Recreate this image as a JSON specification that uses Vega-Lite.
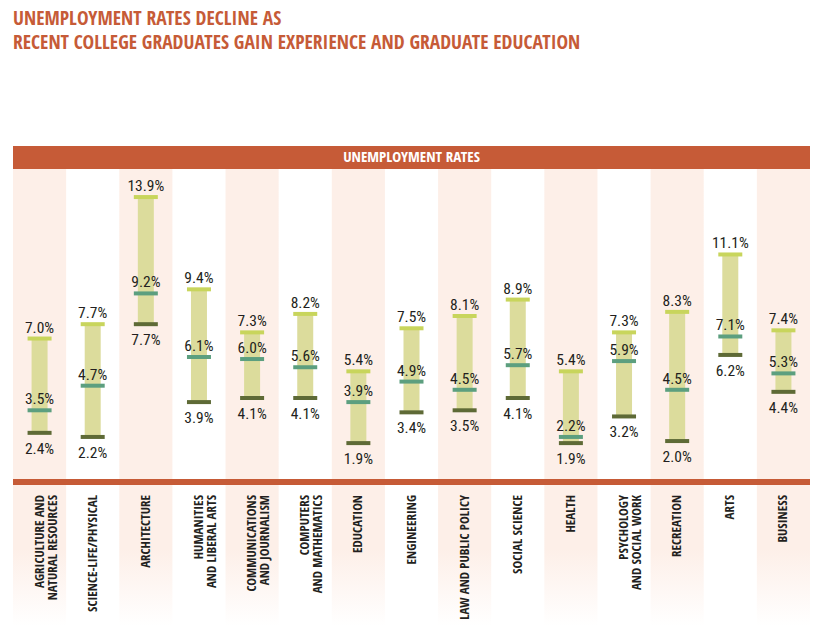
{
  "$schema": "https://vega.github.io/schema/vega-lite/v6.json",
  "width": 797,
  "height": 480,
  "autosize": {"type": "none"},
  "padding": {"left": 13, "top": 146, "right": 4, "bottom": 0},
  "background": "white",
  "config": {"view": {"stroke": null}},
  "title": {
    "text": ["UNEMPLOYMENT RATES DECLINE AS", "RECENT COLLEGE GRADUATES GAIN EXPERIENCE AND GRADUATE EDUCATION"],
    "anchor": "start",
    "frame": "group",
    "color": "#c65b37",
    "font": "Open Sans Condensed, Roboto Condensed, sans-serif",
    "fontSize": 19.5,
    "fontWeight": "bold",
    "lineHeight": 24,
    "baseline": "bottom",
    "offset": 74
  },
  "data": {
    "values": [
      {"major": "AGRICULTURE AND\nNATURAL RESOURCES", "high": 0.070, "mid": 0.035, "low": 0.024},
      {"major": "SCIENCE-LIFE/PHYSICAL", "high": 0.077, "mid": 0.047, "low": 0.022},
      {"major": "ARCHITECTURE", "high": 0.139, "mid": 0.092, "low": 0.077},
      {"major": "HUMANITIES\nAND LIBERAL ARTS", "high": 0.094, "mid": 0.061, "low": 0.039},
      {"major": "COMMUNICATIONS\nAND JOURNALISM", "high": 0.073, "mid": 0.060, "low": 0.041},
      {"major": "COMPUTERS\nAND MATHEMATICS", "high": 0.082, "mid": 0.056, "low": 0.041},
      {"major": "EDUCATION", "high": 0.054, "mid": 0.039, "low": 0.019},
      {"major": "ENGINEERING", "high": 0.075, "mid": 0.049, "low": 0.034},
      {"major": "LAW AND PUBLIC POLICY", "high": 0.081, "mid": 0.045, "low": 0.035},
      {"major": "SOCIAL SCIENCE", "high": 0.089, "mid": 0.057, "low": 0.041},
      {"major": "HEALTH", "high": 0.054, "mid": 0.022, "low": 0.019},
      {"major": "PSYCHOLOGY\nAND SOCIAL WORK", "high": 0.073, "mid": 0.059, "low": 0.032},
      {"major": "RECREATION", "high": 0.083, "mid": 0.045, "low": 0.020},
      {"major": "ARTS", "high": 0.111, "mid": 0.071, "low": 0.062},
      {"major": "BUSINESS", "high": 0.074, "mid": 0.053, "low": 0.044}
    ]
  },
  "layer": [
    {
      "transform": [
        {"window": [{"op": "row_number", "as": "rn"}]},
        {"filter": "datum.rn % 2 == 1"}
      ],
      "mark": {
        "type": "rect",
        "color": {
          "gradient": "linear", "x1": 0, "y1": 0, "x2": 0, "y2": 1,
          "stops": [
            {"offset": 0, "color": "#fdefe8"},
            {"offset": 0.84, "color": "#fdefe8"},
            {"offset": 1, "color": "#ffffff"}
          ]
        }
      },
      "encoding": {
        "x": {"field": "major", "type": "nominal", "sort": null, "axis": null,
              "scale": {"paddingInner": 0, "paddingOuter": 0, "domain": [
                "AGRICULTURE AND\nNATURAL RESOURCES", "SCIENCE-LIFE/PHYSICAL", "ARCHITECTURE",
                "HUMANITIES\nAND LIBERAL ARTS", "COMMUNICATIONS\nAND JOURNALISM", "COMPUTERS\nAND MATHEMATICS",
                "EDUCATION", "ENGINEERING", "LAW AND PUBLIC POLICY", "SOCIAL SCIENCE", "HEALTH",
                "PSYCHOLOGY\nAND SOCIAL WORK", "RECREATION", "ARTS", "BUSINESS"]}}
      }
    },
    {
      "data": {"values": [{"header": "UNEMPLOYMENT RATES"}]},
      "mark": {"type": "rect", "color": "#c65b37"},
      "encoding": {
        "y": {"datum": 0.1527, "type": "quantitative", "axis": null,
              "scale": {"domain": [-0.0702, 0.1639], "nice": false, "zero": false}},
        "y2": {"datum": 0.1639}
      }
    },
    {
      "data": {"values": [{"header": "UNEMPLOYMENT RATES"}]},
      "mark": {"type": "text", "color": "#ffffff", "fontSize": 15, "fontWeight": "bold",
               "font": "Open Sans Condensed, Roboto Condensed, sans-serif", "baseline": "middle"},
      "encoding": {
        "y": {"datum": 0.1583, "type": "quantitative", "axis": null},
        "text": {"field": "header"}
      }
    },
    {
      "mark": {"type": "rule", "color": "#c65b37", "strokeWidth": 5},
      "encoding": {"y": {"datum": 0, "type": "quantitative", "axis": null}}
    },
    {
      "mark": {"type": "bar", "size": 16, "color": "#dcdc9c"},
      "encoding": {
        "x": {"field": "major", "type": "nominal", "sort": null, "axis": null},
        "y": {"field": "low", "type": "quantitative", "axis": null},
        "y2": {"field": "high"}
      }
    },
    {
      "mark": {"type": "tick", "orient": "horizontal", "size": 24, "thickness": 4, "color": "#c8d55c", "opacity": 1},
      "encoding": {
        "x": {"field": "major", "type": "nominal", "sort": null, "axis": null},
        "y": {"field": "high", "type": "quantitative", "axis": null}
      }
    },
    {
      "mark": {"type": "tick", "orient": "horizontal", "size": 24, "thickness": 4, "color": "#5c9f7f", "opacity": 1},
      "encoding": {
        "x": {"field": "major", "type": "nominal", "sort": null, "axis": null},
        "y": {"field": "mid", "type": "quantitative", "axis": null}
      }
    },
    {
      "mark": {"type": "tick", "orient": "horizontal", "size": 24, "thickness": 4, "color": "#5e6a36", "opacity": 1},
      "encoding": {
        "x": {"field": "major", "type": "nominal", "sort": null, "axis": null},
        "y": {"field": "low", "type": "quantitative", "axis": null}
      }
    },
    {
      "mark": {"type": "text", "fontSize": 15.5, "color": "#231f20", "dy": -6, "baseline": "alphabetic",
               "font": "Roboto Condensed, Open Sans Condensed, sans-serif"},
      "encoding": {
        "x": {"field": "major", "type": "nominal", "sort": null, "axis": null},
        "y": {"field": "high", "type": "quantitative", "axis": null},
        "text": {"field": "high", "type": "quantitative", "format": ".1%"}
      }
    },
    {
      "mark": {"type": "text", "fontSize": 15.5, "color": "#231f20", "dy": -6, "baseline": "alphabetic",
               "font": "Roboto Condensed, Open Sans Condensed, sans-serif"},
      "encoding": {
        "x": {"field": "major", "type": "nominal", "sort": null, "axis": null},
        "y": {"field": "mid", "type": "quantitative", "axis": null},
        "text": {"field": "mid", "type": "quantitative", "format": ".1%"}
      }
    },
    {
      "mark": {"type": "text", "fontSize": 15.5, "color": "#231f20", "dy": 21, "baseline": "alphabetic",
               "font": "Roboto Condensed, Open Sans Condensed, sans-serif"},
      "encoding": {
        "x": {"field": "major", "type": "nominal", "sort": null, "axis": null},
        "y": {"field": "low", "type": "quantitative", "axis": null},
        "text": {"field": "low", "type": "quantitative", "format": ".1%"}
      }
    },
    {
      "mark": {"type": "text", "fontSize": 13, "fontWeight": "bold", "color": "#231f20", "angle": 270,
               "align": "right", "baseline": "middle", "lineBreak": "\n", "lineHeight": 13,
               "font": "Open Sans Condensed, Roboto Condensed, sans-serif"},
      "encoding": {
        "x": {"field": "major", "type": "nominal", "sort": null, "axis": null},
        "y": {"datum": -0.0063, "type": "quantitative", "axis": null},
        "text": {"field": "major"}
      }
    }
  ]
}
